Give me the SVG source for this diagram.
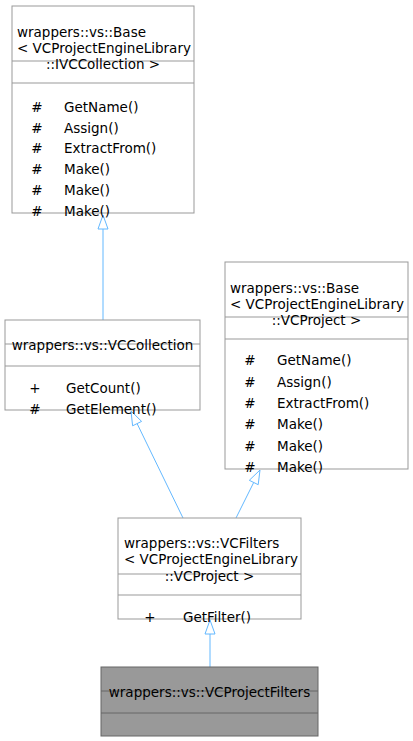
<svg xmlns="http://www.w3.org/2000/svg" width="413" height="741" viewBox="0 0 413 741">
<style>
.box{fill:#ffffff;stroke:#999999;stroke-width:1}
.sel{fill:#999999;stroke:#666666;stroke-width:1}
.sep{stroke:#999999;stroke-width:1}
.sep2{stroke:#666666;stroke-width:1}
text{font-family:"DejaVu Sans",Verdana,sans-serif;font-size:13.5px;fill:#000000}
.c{text-anchor:middle}
.edge{stroke:#63b8ff;stroke-width:1;fill:none}
.head{stroke:#63b8ff;stroke-width:1;fill:#ffffff}
</style>
<rect width="413" height="741" fill="#ffffff"/>
<g id="connectors">
<line class="edge" x1="103" y1="320" x2="103" y2="229"/>
<polygon class="head" points="103,215 98,229 108,229"/>
<line class="edge" x1="183" y1="518" x2="137.1" y2="423.6"/>
<polygon class="head" points="131,411 141.6,421.4 132.6,425.8"/>
<line class="edge" x1="236" y1="518" x2="253.7" y2="482.5"/>
<polygon class="head" points="260,470 258.2,484.7 249.3,480.3"/>
<line class="edge" x1="210" y1="667" x2="210" y2="634"/>
<polygon class="head" points="210,620 205,634 215,634"/>
</g>
<g id="node_base_ivccollection">
<rect class="box" x="12" y="6" width="182" height="207"/>
<line class="sep" x1="12" y1="61" x2="194" y2="61"/>
<line class="sep" x1="12" y1="83" x2="194" y2="83"/>
<text x="17" y="37">wrappers::vs::Base</text>
<text x="17" y="53">&lt; VCProjectEngineLibrary</text>
<text class="c" x="103" y="69">::IVCCollection &gt;</text>
<text class="c" x="37" y="112">#</text><text x="64" y="112">GetName()</text>
<text class="c" x="37" y="133">#</text><text x="64" y="133">Assign()</text>
<text class="c" x="37" y="153">#</text><text x="64" y="153">ExtractFrom()</text>
<text class="c" x="37" y="174">#</text><text x="64" y="174">Make()</text>
<text class="c" x="37" y="195">#</text><text x="64" y="195">Make()</text>
<text class="c" x="37" y="216">#</text><text x="64" y="216">Make()</text>
</g>
<g id="node_vccollection">
<rect class="box" x="5" y="320" width="195" height="90"/>
<line class="sep" x1="5" y1="344" x2="200" y2="344"/>
<line class="sep" x1="5" y1="366" x2="200" y2="366"/>
<text class="c" x="102.5" y="350">wrappers::vs::VCCollection</text>
<text class="c" x="35" y="393">+</text><text x="66" y="393">GetCount()</text>
<text class="c" x="35" y="414">#</text><text x="66" y="414">GetElement()</text>
</g>
<g id="node_base_vcproject">
<rect class="box" x="225" y="262" width="183" height="207"/>
<line class="sep" x1="225" y1="317" x2="408" y2="317"/>
<line class="sep" x1="225" y1="339" x2="408" y2="339"/>
<text x="230" y="293">wrappers::vs::Base</text>
<text x="230" y="309">&lt; VCProjectEngineLibrary</text>
<text class="c" x="316.5" y="325">::VCProject &gt;</text>
<text class="c" x="250" y="365">#</text><text x="277" y="365">GetName()</text>
<text class="c" x="250" y="387">#</text><text x="277" y="387">Assign()</text>
<text class="c" x="250" y="408">#</text><text x="277" y="408">ExtractFrom()</text>
<text class="c" x="250" y="429">#</text><text x="277" y="429">Make()</text>
<text class="c" x="250" y="451">#</text><text x="277" y="451">Make()</text>
<text class="c" x="250" y="472">#</text><text x="277" y="472">Make()</text>
</g>
<g id="node_vcfilters">
<rect class="box" x="118" y="518" width="183" height="101"/>
<line class="sep" x1="118" y1="574" x2="301" y2="574"/>
<line class="sep" x1="118" y1="595" x2="301" y2="595"/>
<text x="124" y="548">wrappers::vs::VCFilters</text>
<text x="124" y="564">&lt; VCProjectEngineLibrary</text>
<text class="c" x="209.5" y="581">::VCProject &gt;</text>
<text class="c" x="150" y="622">+</text><text x="183" y="622">GetFilter()</text>
</g>
<g id="node_vcprojectfilters">
<rect class="sel" x="101" y="667" width="217" height="69"/>
<line class="sep2" x1="101" y1="691" x2="318" y2="691"/>
<line class="sep2" x1="101" y1="713" x2="318" y2="713"/>
<text class="c" x="209.5" y="697">wrappers::vs::VCProjectFilters</text>
</g>
</svg>
